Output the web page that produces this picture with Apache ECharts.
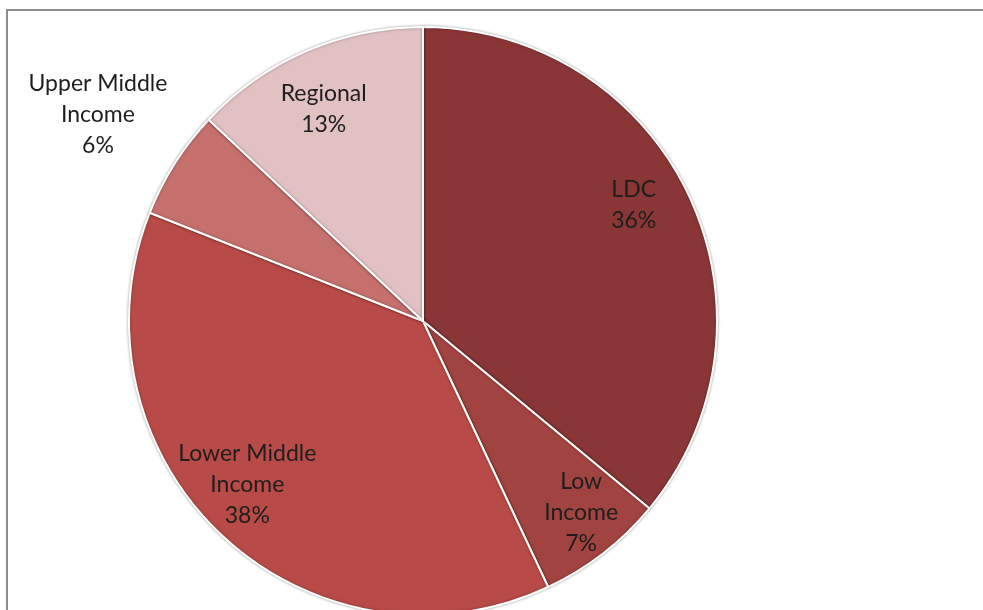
<!DOCTYPE html>
<html>
<head>
<meta charset="utf-8">
<script src="https://cdn.jsdelivr.net/npm/echarts@6/dist/echarts.min.js"></script>
<style>
  html, body { margin: 0; padding: 0; background: #fff; }
  #chart { width: 983px; height: 610px; }
</style>
</head>
<body>
<div id="chart"></div>
<script>
// slices, clockwise from 12 o'clock
const names = ["LDC", "Low\nIncome", "Lower Middle\nIncome", "Upper Middle\nIncome", "Regional"];
const values = [36, 7, 38, 6, 13];
const colors = ["#8a3636", "#a14341", "#b84b48", "#c6706e", "#e2c1c3"];

const pieData = names.map((n, i) => ({ name: n, value: values[i], itemStyle: { color: colors[i] } }));

const labelStyle = {
  fontFamily: "Lato, 'Open Sans', sans-serif",
  fontSize: 23,
  lineHeight: 31,
  color: "#1e1e1e",
  formatter: "{b}\n{d}%"
};

// small nudges so labels sit where Excel put them
const nudge = [[-11, -12], [8, -2], [-8, -15], [0, 1], [-2, 13]];

const chart = echarts.init(document.getElementById("chart"));
chart.setOption({
  animation: false,
  graphic: [
    {
      type: "rect",
      shape: { x: 7, y: 10, width: 1000, height: 700 },
      style: { fill: null, stroke: "#8c8c8c", lineWidth: 2 },
      z: -1
    }
  ],
  series: [
    // the pie itself
    {
      type: "pie",
      center: [423, 321],
      radius: [0, 294],
      startAngle: 90,
      silent: true,
      label: { show: false },
      labelLine: { show: false },
      itemStyle: {
        borderColor: "#ffffff",
        borderWidth: 2,
        shadowBlur: 3,
        shadowColor: "rgba(0,0,0,0.35)"
      },
      data: pieData
    },
    // transparent ring that carries the inside labels
    {
      type: "pie",
      center: [423, 321],
      radius: [190, 294],
      startAngle: 90,
      silent: true,
      itemStyle: { color: "transparent" },
      label: Object.assign({ show: true, position: "inside" }, labelStyle),
      labelLine: { show: false },
      labelLayout: (p) => ({ dx: nudge[p.dataIndex][0], dy: nudge[p.dataIndex][1] }),
      data: names.map((n, i) => ({
        name: n, value: values[i],
        label: { show: i !== 3 }
      }))
    },
    // transparent outer ring for the small slice whose label sits outside
    {
      type: "pie",
      center: [423, 321],
      radius: [300, 464],
      startAngle: 90,
      silent: true,
      itemStyle: { color: "transparent" },
      label: Object.assign({ show: true, position: "inside" }, labelStyle),
      labelLine: { show: false },
      data: names.map((n, i) => ({
        name: n, value: values[i],
        label: { show: i === 3 }
      }))
    }
  ]
});
</script>
</body>
</html>
